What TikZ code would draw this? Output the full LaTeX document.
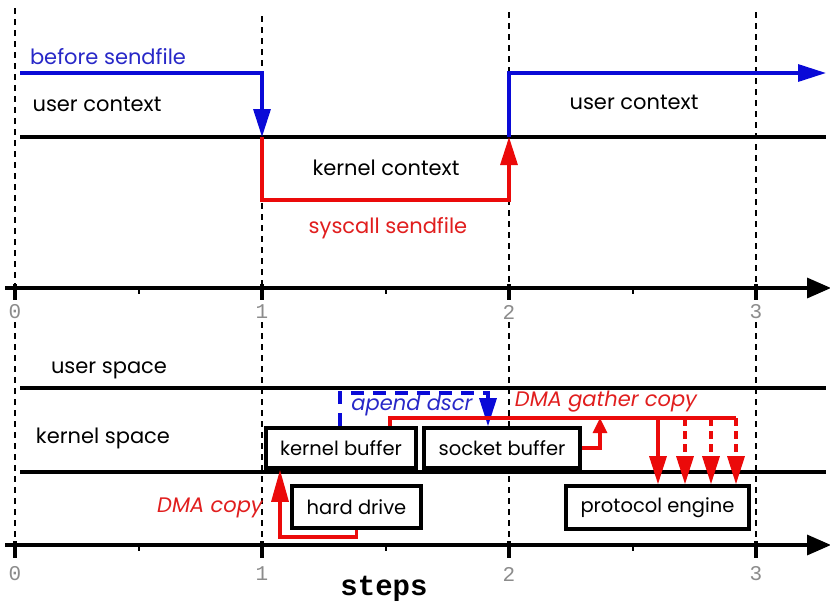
\documentclass[tikz,border=0pt]{standalone}
\usepackage{fontspec}
\setmainfont{Poppins}
\newfontfamily\tickfont{Liberation Mono}
\usetikzlibrary{arrows.meta}

\definecolor{lineblue}{RGB}{10,10,215}
\definecolor{linered}{RGB}{235,10,10}
\definecolor{textblue}{RGB}{40,40,200}
\definecolor{textred}{RGB}{225,30,30}
\definecolor{ticknum}{RGB}{140,140,140}

\begin{document}
\begin{tikzpicture}[x=1pt,y=-1pt,
  guide/.style={line width=2pt, dash pattern=on 6pt off 5pt},
  rule/.style={line width=3.2pt},
  axisline/.style={line width=3.4pt, -{Triangle[length=24pt,width=20pt]}},
  majortick/.style={line width=3.2pt},
  minortick/.style={line width=1.6pt},
  bluepath/.style={lineblue, line width=3.2pt},
  redpath/.style={linered, line width=3.2pt},
  bigtip/.style={-{Triangle[length=28pt,width=17pt]}},
  smalltip/.style={-{Triangle[length=15pt,width=14pt]}},
  bluedash/.style={lineblue, line width=3.2pt, dash pattern=on 13pt off 9pt},
  reddash/.style={linered, line width=3.2pt, dash pattern=on 8pt off 5pt},
  lbl/.style={inner sep=0, font=\fontsize{21}{25}\selectfont},
  itlbl/.style={inner sep=0, font=\fontsize{21}{25}\selectfont\itshape},
  boxlbl/.style={draw, line width=3.6pt, fill=white, inner sep=0,
                 font=\fontsize{19.5}{23}\selectfont},
  ticklbl/.style={inner sep=0, text=ticknum, font=\tickfont\fontsize{21}{24}\selectfont},
]
\useasboundingbox[fill=white] (0,0) rectangle (830,606);

% ---------- vertical step guides ----------
\foreach \gx/\gtop in {15/8, 262/16, 509/12, 756/12} {
  \draw[guide] (\gx,\gtop) -- (\gx,288);
  \draw[guide] (\gx,322) -- (\gx,545);
}

% ---------- upper panel: context switches ----------
\coordinate (bstart) at (20,73);
\coordinate (c1mid) at (262,137);
\coordinate (c2low) at (509,200);
\coordinate (c2mid) at (509,137);
\coordinate (bend) at (826,73);
\coordinate (ruleL) at (20,137);
\coordinate (ruleR) at (826,137);

\draw[rule] (ruleL) -- (ruleR);
\draw[bluepath, bigtip] (bstart) -| (c1mid);
\draw[redpath, bigtip] (c1mid) |- (c2low) -- (c2mid);
\draw[bluepath, bigtip] (c2mid) |- (bend);

\node[lbl, text=textblue] (before) at (108,57) {before sendfile};
\node[lbl] (uctxA) at (97,104) {user context};
\node[lbl] (kctx) at (386,168) {kernel context};
\node[lbl, text=textred] (sysc) at (388,228) {syscall sendfile};
\node[lbl] (uctxB) at (634,102) {user context};

% ---------- upper time axis ----------
\coordinate (axAL) at (5,288);
\coordinate (axAR) at (831,288);
\draw[axisline] (axAL) -- (axAR);
\foreach \tx in {15,262,509,756} \draw[majortick] (\tx,284) -- (\tx,300);
\foreach \tx in {139,386,633} \draw[minortick] (\tx,288) -- (\tx,294);
\node[ticklbl] (ta0) at (15,312) {0};
\node[ticklbl] (ta1) at (262,312) {1};
\node[ticklbl] (ta2) at (509,312) {2};
\node[ticklbl] (ta3) at (756,312) {3};

% ---------- lower panel: data path ----------
\coordinate (usL) at (20,388);
\coordinate (usR) at (826,388);
\coordinate (ksL) at (20,472);
\coordinate (ksR) at (826,472);
\draw[rule] (usL) -- (usR);
\draw[rule] (ksL) -- (ksR);

\node[lbl] (uspace) at (109,370) {user space};
\node[lbl] (kspace) at (103,438) {kernel space};

\node[boxlbl, minimum width=150pt, minimum height=40pt] (kb) at (341,448) {kernel buffer};
\node[boxlbl, minimum width=156pt, minimum height=40pt] (sb) at (502,448) {socket buffer};
\node[boxlbl, minimum width=129pt, minimum height=42pt] (hd) at (356.5,507) {hard drive};
\node[boxlbl, minimum width=183pt, minimum height=43pt] (pe) at (657.5,507.5) {protocol engine};

% DMA copy: disk -> kernel buffer
\coordinate (dmacorner) at (280,537);
\draw[redpath, -{Triangle[length=32pt,width=17pt]}] (hd.south) |- (dmacorner) -- (dmacorner |- kb.south);
\node[itlbl, text=textred] (dmacopy) at (210,508) {DMA copy};

% append descriptor: kernel buffer -> socket buffer
\coordinate (ad1) at (340,393);
\coordinate (ad2) at (488,393);
\draw[bluedash, bigtip] (ad1 |- kb.north) -- (ad1) -- (ad2) -- (ad2 |- sb.north);
\node[itlbl, text=textblue] (apend) at (412,405) {apend dscr};

% DMA gather copy: buffers -> protocol engine
\coordinate (g0) at (390,418);
\coordinate (g1) at (658,418);
\coordinate (g2) at (685,418);
\coordinate (g3) at (711,418);
\coordinate (g4) at (736,418);
\coordinate (sbup) at (600,418);
\draw[redpath] (g0 |- kb.north) -- (g0) -- (g4);
\draw[redpath, smalltip] (sb.east) -| (sbup);
\draw[redpath, bigtip] (g1) -- (g1 |- pe.north);
\draw[reddash, bigtip] (g2) -- (g2 |- pe.north);
\draw[reddash, bigtip] (g3) -- (g3 |- pe.north);
\draw[reddash, bigtip] (g4) -- (g4 |- pe.north);
\node[itlbl, text=textred] (gather) at (606,402) {DMA gather copy};

% ---------- lower time axis ----------
\coordinate (axBL) at (5,545);
\coordinate (axBR) at (831,545);
\draw[axisline] (axBL) -- (axBR);
\foreach \tx in {15,262,509,756} \draw[majortick] (\tx,541) -- (\tx,558);
\foreach \tx in {139,386,633} \draw[minortick] (\tx,545) -- (\tx,551);
\node[ticklbl] (tb0) at (15,574) {0};
\node[ticklbl] (tb1) at (262,574) {1};
\node[ticklbl] (tb2) at (509,574) {2};
\node[ticklbl] (tb3) at (756,574) {3};
\node[inner sep=0, font=\tickfont\bfseries\fontsize{29}{31}\selectfont] (steps) at (384,589) {steps};

\end{tikzpicture}
\end{document}
